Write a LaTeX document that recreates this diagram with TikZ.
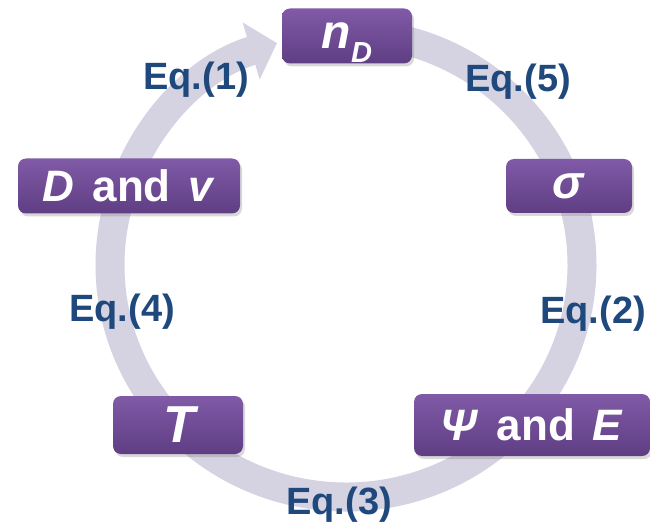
\documentclass[tikz,border=0pt]{standalone}
\usepackage{fontspec}
\setmainfont{Liberation Sans}
\usetikzlibrary{arrows.meta,shadows}
\definecolor{boxtop}{RGB}{128,90,166}
\definecolor{boxbot}{RGB}{95,62,132}
\definecolor{ringgray}{RGB}{213,210,226}
\definecolor{eqblue}{RGB}{31,73,125}
\begin{document}
\begin{tikzpicture}[x=1pt,y=1pt,
  every node/.style={font=\fontsize{38}{40}\selectfont\bfseries},
  varbox/.style={text=white,top color=boxtop,bottom color=boxbot,
    rounded corners=8pt,minimum height=55pt,inner sep=0pt,
    font=\fontsize{44}{46}\selectfont\bfseries,
    drop shadow={shadow xshift=2pt,shadow yshift=-3pt,opacity=0.3}},
  eqlabel/.style={text=eqblue,inner sep=0pt},
  ring/.style={draw=ringgray,line width=29pt,
    -{Triangle[width=58pt,length=27pt]}}]
  \useasboundingbox (0,0) rectangle (650,528);

  % cycle ring behind the boxes
  \coordinate (ringc) at (346,263);
  \draw[ring] ([shift={(85:236 and 232)}]ringc)
    arc[start angle=85,end angle=-253,x radius=236,y radius=232];

  \node[varbox,minimum width=130pt] (nd) at (347,492)
    {\fontsize{48}{50}\selectfont\textit{n}\raisebox{-14pt}[0pt][0pt]{\fontsize{29}{30}\selectfont\textit{D}}};
  \node[varbox,minimum width=126pt,minimum height=54pt] (sigma) at (569,342)
    {\fontsize{47}{48}\selectfont\textit{σ}};
  \node[varbox,minimum width=222pt] (dv) at (129,342)
    {\textit{D}\hspace{18pt}and\hspace{18pt}\textit{v}};
  \node[varbox,minimum width=130pt,minimum height=58pt] (temp) at (178,103)
    {\fontsize{52}{54}\selectfont\hspace{6pt}\textit{T}};
  \node[varbox,minimum width=236pt,minimum height=62pt] (psie) at (532,103)
    {\textit{Ψ}\hspace{18pt}and\hspace{18pt}\textit{E}};

  \node[eqlabel] (eq1) at (196,448) {Eq.(1)};
  \node[eqlabel] (eq5) at (518,446) {Eq.(5)};
  \node[eqlabel] (eq4) at (122,216) {Eq.(4)};
  \node[eqlabel] (eq2) at (593,214) {Eq.(2)};
  \node[eqlabel] (eq3) at (339,23) {Eq.(3)};
\end{tikzpicture}
\end{document}
